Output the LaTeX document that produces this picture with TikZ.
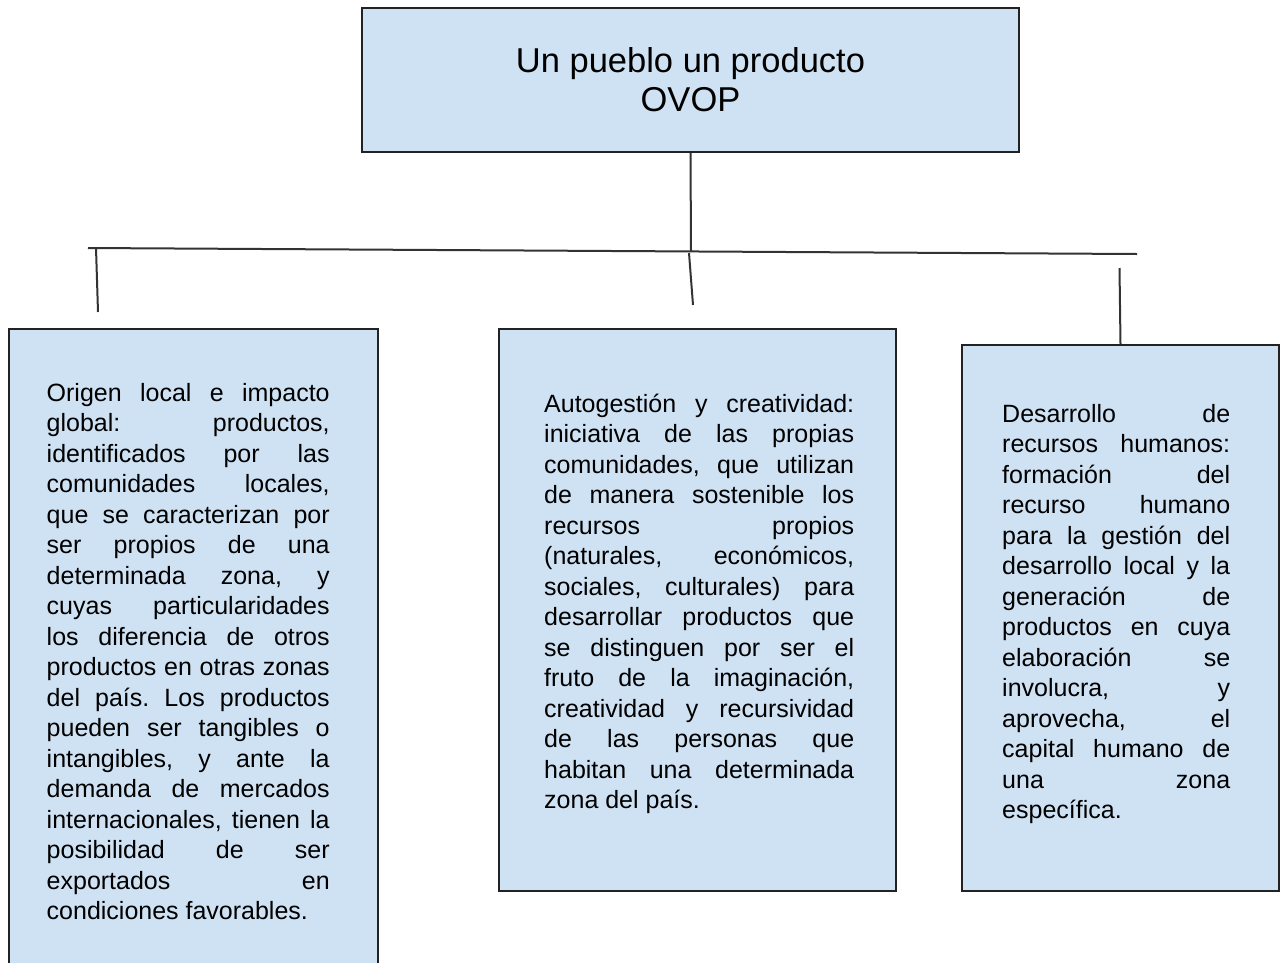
\documentclass[tikz,border=0pt]{standalone}
\usepackage{fontspec}
\setmainfont{Liberation Sans}
\definecolor{boxfill}{HTML}{CFE2F3}
\definecolor{boxline}{HTML}{222222}
\definecolor{conline}{HTML}{333333}
\newdimen\colw
\newcommand\jline[1]{\hbox to \colw{#1}}
\newcommand\lastline[1]{\hbox{#1}}
\newcommand\firststrut{\vrule height 24pt depth 0pt width 0pt}
\hbadness=10000
\frenchspacing
\begin{document}
\begin{tikzpicture}[x=1pt,y=-1pt,
  box/.style={draw=boxline,fill=boxfill,line width=2pt,rectangle,inner sep=0pt,anchor=north west},
  bodytext/.style={anchor=north west,inner sep=0pt,font=\fontsize{25}{30.5}\selectfont},
  conn/.style={draw=conline,line width=2pt}]
\useasboundingbox (0,0) rectangle (1283,962);
% boxes
\node[box,anchor=center,minimum width=657pt,minimum height=144pt,align=center,
      font=\fontsize{34.5}{39}\selectfont] (top) at (690.5,80) {Un pueblo un producto\\OVOP};
\node[box,minimum width=369pt,minimum height=660pt] (lbox) at (8,328) {};
\node[box,minimum width=397pt,minimum height=562pt] (mbox) at (498,328) {};
\node[box,minimum width=317pt,minimum height=546pt] (rbox) at (961,344) {};
% connectors
\coordinate (jt) at (691,251);
\coordinate (hl) at (88,248);
\coordinate (hr) at (1137,254);
\coordinate (sl1) at (96,248);
\coordinate (sl2) at (98,312);
\coordinate (sm1) at (689,253);
\coordinate (sm2) at (693,305);
\coordinate (sr1) at (1119.5,268);
\draw[conn] (top.south) -- (jt);
\draw[conn] (hl) -- (hr);
\draw[conn] (sl1) -- (sl2);
\draw[conn] (sm1) -- (sm2);
\draw[conn] (sr1) -- (rbox.north);
% texts
\node[bodytext,text width=283pt] (ltext) at (46.5,377) {\colw=283pt\spaceskip=0pt\xspaceskip=0pt\relax
\jline{\firststrut Origen local e impacto}
\jline{global: productos,}
\jline{identificados por las}
\jline{comunidades locales,}
\jline{que se caracterizan por}
\jline{ser propios de una}
\jline{determinada zona, y}
\jline{cuyas particularidades}
\jline{los diferencia de otros}
\jline{productos en otras zonas}
\jline{del país. Los productos}
\jline{pueden ser tangibles o}
\jline{intangibles, y ante la}
\jline{demanda de mercados}
\jline{internacionales, tienen la}
\jline{posibilidad de ser}
\jline{exportados en}
\lastline{condiciones favorables.}};
\node[bodytext,text width=310pt] (mtext) at (544,388) {\colw=310pt\spaceskip=0pt\xspaceskip=0pt\relax
\jline{\firststrut Autogestión y creatividad:}
\jline{iniciativa de las propias}
\jline{comunidades, que utilizan}
\jline{de manera sostenible los}
\jline{recursos propios}
\jline{(naturales, económicos,}
\jline{sociales, culturales) para}
\jline{desarrollar productos que}
\jline{se distinguen por ser el}
\jline{fruto de la imaginación,}
\jline{creatividad y recursividad}
\jline{de las personas que}
\jline{habitan una determinada}
\lastline{zona del país.}};
\node[bodytext,text width=228pt] (rtext) at (1002,398) {\colw=228pt\spaceskip=0pt\xspaceskip=0pt\relax
\jline{\firststrut Desarrollo de}
\jline{recursos humanos:}
\jline{formación del}
\jline{recurso humano}
\jline{para la gestión del}
\jline{desarrollo local y la}
\jline{generación de}
\jline{productos en cuya}
\jline{elaboración se}
\jline{involucra, y}
\jline{aprovecha, el}
\jline{capital humano de}
\jline{una zona}
\lastline{específica.}};
\end{tikzpicture}
\end{document}
